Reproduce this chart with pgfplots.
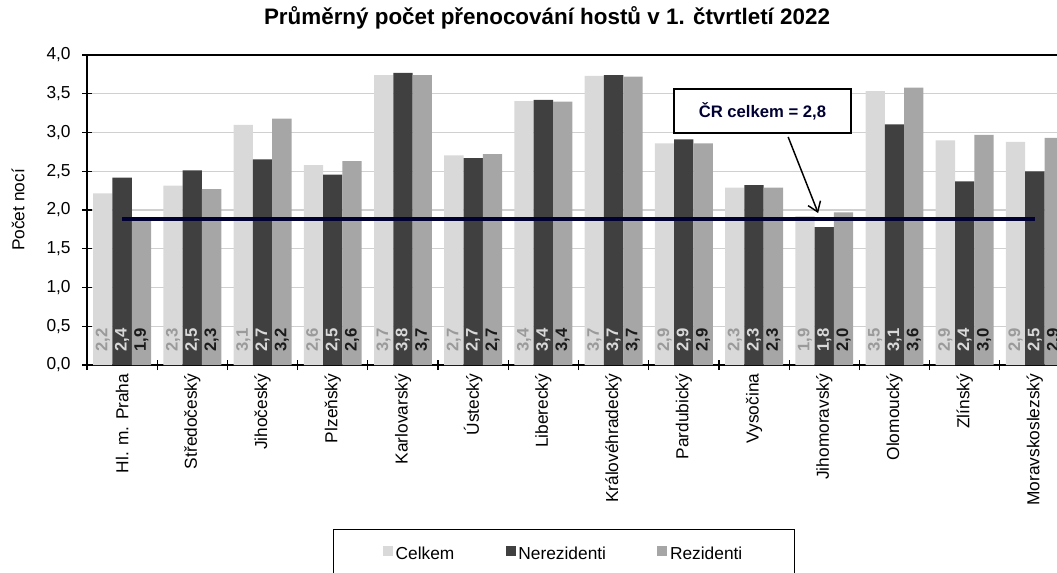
\documentclass[border=0pt]{standalone}
\usepackage{pgfplots}
\pgfplotsset{compat=1.18}
\usepackage{fontspec}
\setmainfont{Liberation Sans}
\usetikzlibrary{arrows.meta}
\definecolor{cCel}{HTML}{D9D9D9}
\definecolor{cNer}{HTML}{404040}
\definecolor{cRez}{HTML}{A6A6A6}
\definecolor{lCel}{HTML}{9A9A9A}
\definecolor{lNer}{HTML}{D9D9D9}
\definecolor{lRez}{HTML}{1A1A1A}
\definecolor{navy}{HTML}{000033}
\definecolor{gridc}{HTML}{D0D0D0}
\pgfplotsset{
  layers/mylayers/.define layer set={axis background,axis grid,main,axis ticks,axis lines,axis tick labels,axis descriptions,axis foreground}{},
  sqleg/.style={legend image code/.code={\fill[##1,draw=none] (0pt,-1pt) rectangle (7.5pt,6.5pt);}},
  barlab/.style n args={2}{
    nodes near coords={\pgfmathprintnumber[fixed,fixed zerofill,precision=1,use comma]{\pgfplotspointmeta}},
    visualization depends on=rawy\as\rawy,
    every node near coord/.style={xshift=#2, yshift={-\rawy*58.125pt+9.75pt}, rotate=90, anchor=west, inner sep=0pt,
      font=\fontsize{12.5}{14}\selectfont\bfseries, text=#1},
  },
}
\begin{document}
\begin{tikzpicture}
\begin{axis}[
  set layers=mylayers,
  at={(0pt,0pt)}, anchor=south west,
  scale only axis, width=737.25pt, height=232.5pt,
  xmin=-0.5, xmax=13.5, ymin=0, ymax=4,
  ytick={0,0.5,1,1.5,2,2.5,3,3.5,4},
  yticklabel style={xshift=-5pt, font=\fontsize{13}{15}\selectfont, /pgf/number format/fixed, /pgf/number format/fixed zerofill, /pgf/number format/precision=1, /pgf/number format/use comma},
  /pgf/number format/assume math mode=true,
  xtick={-0.5,0.5,1.5,2.5,3.5,4.5,5.5,6.5,7.5,8.5,9.5,10.5,11.5,12.5,13.5},
  xticklabels={},
  extra x ticks={0,1,2,3,4,5,6,7,8,9,10,11,12,13},
  extra x tick labels={Hl. m. Praha, Středočeský, Jihočeský, Plzeňský, Karlovarský, Ústecký, Liberecký, Královéhradecký, Pardubický, Vysočina, Jihomoravský, Olomoucký, Zlínský, Moravskoslezský},
  extra x tick style={major tick length=0pt, xticklabel style={yshift=-3pt, rotate=90, anchor=east, font=\fontsize{13}{15}\selectfont}},
  tick style={black, line width=0.9pt},
  tick align=center, major tick length=7.5pt,
  tick pos=left,
  ymajorgrids, grid style={gridc, line width=0.9pt},
  axis line style={black, line width=1pt},
  ylabel={Počet nocí},
  ylabel style={at={(axis description cs:-0.070,0.5)}, anchor=center, font=\fontsize{13}{15}\selectfont},
  title={Průměrný počet přenocování hostů v 1. čtvrtletí 2022},
  every axis title shift=0pt,
  title style={at={(axis description cs:0.468,1.119)}, anchor=center, font=\fontsize{16.8}{19}\selectfont\bfseries},
  legend columns=3,
  legend style={at={(axis description cs:0.2503,-0.529)}, anchor=north west, draw=black, line width=0.9pt,
    inner xsep=37pt, inner ysep=11pt, font=\fontsize{13}{15}\selectfont,
    /tikz/every even column/.append style={column sep=36.5pt}},
]
\addplot[ybar, bar width=0.275, bar shift=-0.275, fill=cCel, draw=none, sqleg, barlab={lCel}{-14.48pt}] coordinates {
(0,2.215) (1,2.314) (2,3.097) (3,2.58) (4,3.74) (5,2.705) (6,3.406) (7,3.73) (8,2.86) (9,2.29) (10,1.92) (11,3.535) (12,2.90) (13,2.88)};
\addlegendentry{Celkem}
\addplot[ybar, bar width=0.275, bar shift=0, fill=cNer, draw=none, sqleg, barlab={lNer}{0pt}] coordinates {
(0,2.417) (1,2.51) (2,2.654) (3,2.456) (4,3.77) (5,2.67) (6,3.42) (7,3.74) (8,2.91) (9,2.32) (10,1.78) (11,3.105) (12,2.37) (13,2.50)};
\addlegendentry{Nerezidenti}
\addplot[ybar, bar width=0.275, bar shift=0.275, fill=cRez, draw=none, sqleg, barlab={lRez}{14.48pt}] coordinates {
(0,1.88) (1,2.27) (2,3.18) (3,2.63) (4,3.74) (5,2.72) (6,3.40) (7,3.72) (8,2.86) (9,2.29) (10,1.97) (11,3.58) (12,2.97) (13,2.93)};
\addlegendentry{Rezidenti}
\addplot[sharp plot, navy, line width=2.8pt, forget plot] coordinates {(0,1.88) (13,1.88)};
\draw[black, line width=1.1pt, -{Straight Barb[length=7pt,width=10pt]}] (axis cs:9.486,2.942) -- (axis cs:9.913,1.961);
\node[draw=black, line width=1.2pt, fill=white, minimum width=132.75pt, minimum height=33pt, inner sep=0pt,
  font=\fontsize{12.5}{14}\selectfont\bfseries, text=navy] at (axis cs:9.12,3.277) {ČR celkem = 2,8};
\end{axis}
\pgfresetboundingbox
\useasboundingbox (-65.25pt,-155.25pt) rectangle (727.5pt,273.75pt);
\end{tikzpicture}
\end{document}
